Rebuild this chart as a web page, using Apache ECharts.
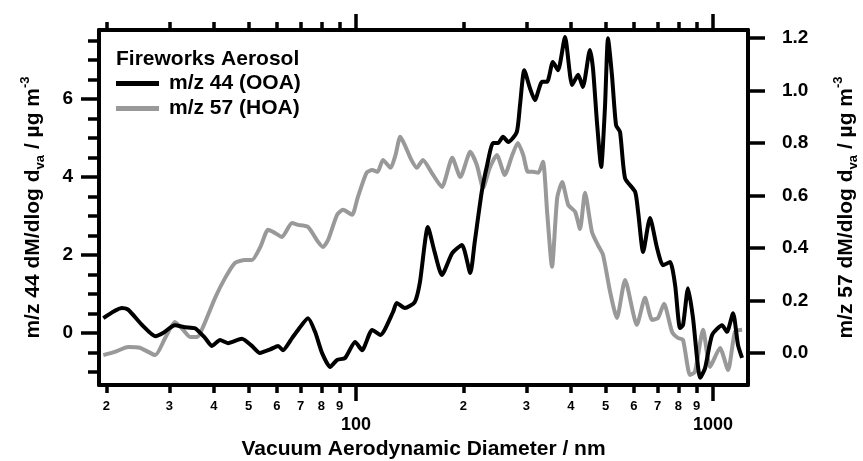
<!DOCTYPE html>
<html>
<head>
<meta charset="utf-8">
<script src="https://cdn.jsdelivr.net/npm/echarts@6/dist/echarts.min.js"></script>
<style>
    html, body { margin: 0; padding: 0; background: #fff; }
    #chart { width: 863px; height: 461px; }
</style>
</head>
<body>
<div id="chart"></div>
<script>
// m/z 44 (OOA) -> left axis
const diam44 = [19.6, 22.1, 23.0, 25.2, 27.4, 28.8, 31.1, 33.2, 35.4, 37.8, 39.5, 41.6, 43.8, 47.9, 51.1,
    53.8, 57.5, 60.5, 62.4, 66.2, 68.8, 73.4, 76.8, 80.3, 84.6, 88.5, 93.2, 99.4, 104, 111,
    117, 127, 130, 137, 146, 151, 159, 166, 174, 186, 198, 209, 215, 225, 233,
    242, 250, 258, 267, 282, 288, 296, 307, 317, 332, 343, 356, 368, 385, 403,
    419, 432, 452, 461, 473, 486, 498, 508, 521, 535, 549, 567, 605, 617, 637,
    666, 697, 724, 758, 783, 808, 824, 851, 879, 902, 920, 950, 994, 1060, 1094,
    1138, 1175, 1206];
const mz44 = [0.38, 0.64, 0.60, 0.20, -0.08, 0.00, 0.20, 0.15, 0.12, -0.13, -0.33, -0.18, -0.26, -0.15, -0.33,
    -0.51, -0.42, -0.33, -0.44, -0.13, 0.08, 0.38, 0.03, -0.51, -0.87, -0.69, -0.64, -0.23, -0.44, 0.08,
    -0.05, 0.54, 0.77, 0.64, 0.79, 1.30, 2.72, 2.08, 1.49, 2.05, 2.26, 1.54, 2.33, 3.62, 4.31,
    4.87, 4.87, 5.03, 4.90, 5.15, 5.85, 6.74, 6.28, 5.97, 6.44, 6.44, 6.95, 6.74, 7.59, 6.36,
    6.62, 6.31, 7.26, 6.79, 5.41, 4.26, 5.77, 7.56, 6.62, 5.33, 5.15, 3.97, 3.62, 3.10, 2.08,
    2.95, 2.18, 1.74, 1.82, 1.23, 0.13, 0.20, 1.15, 0.38, -0.64, -1.15, -0.90, -0.05, 0.20, 0.03,
    0.51, -0.31, -0.64];

// m/z 57 (HOA) -> right axis
const diam57 = [19.6, 21.1, 23.0, 24.8, 27.4, 29.2, 31.1, 32.8, 34.3, 35.9, 37.8, 40.3, 43.0, 45.8, 48.9,
    51.1, 54.0, 56.7, 59.3, 62.0, 66.2, 68.8, 73.4, 78.3, 80.8, 83.5, 88.5, 92.0, 97.5, 101,
    107, 111, 115, 119, 125, 129, 133, 137, 142, 148, 154, 163, 174, 186, 196,
    209, 218, 227, 237, 248, 261, 274, 284, 294, 303, 313, 324, 334, 343, 354,
    366, 378, 393, 411, 424, 438, 458, 476, 492, 515, 538, 567, 612, 645, 675,
    701, 729, 768, 798, 824, 862, 890, 938, 981, 1046, 1102, 1152, 1206];
const mz57 = [-0.008, 0.004, 0.023, 0.020, -0.008, 0.057, 0.118, 0.088, 0.061, 0.061, 0.118, 0.210, 0.286, 0.343, 0.354,
    0.354, 0.405, 0.469, 0.457, 0.442, 0.495, 0.488, 0.480, 0.423, 0.404, 0.430, 0.526, 0.545, 0.526, 0.590,
    0.686, 0.697, 0.690, 0.735, 0.705, 0.754, 0.823, 0.792, 0.743, 0.705, 0.735, 0.686, 0.632, 0.743, 0.670,
    0.766, 0.716, 0.629, 0.705, 0.754, 0.678, 0.754, 0.800, 0.754, 0.690, 0.690, 0.686, 0.728, 0.537, 0.328,
    0.590, 0.651, 0.564, 0.537, 0.472, 0.610, 0.461, 0.411, 0.373, 0.232, 0.133, 0.278, 0.107, 0.210, 0.126,
    0.133, 0.187, 0.080, 0.057, 0.050, -0.084, -0.072, 0.088, -0.053, 0.019, -0.065, 0.080, 0.088];

const xRange = [19.06, 1253];
const xMajorTicks = [100, 1000];
const xMinorTicks = [20, 30, 40, 50, 60, 70, 80, 90, 200, 300, 400, 500, 600, 700, 800, 900];
const leftRange = [-1.333, 7.77];
const leftTicks = [0, 2, 4, 6];
const leftMinorTicks = [-1, -0.5, 0.5, 1, 1.5, 2.5, 3, 3.5, 4.5, 5, 5.5, 6.5, 7, 7.5];
const rightRange = [-0.122, 1.23];
const rightTicks = [0, 0.2, 0.4, 0.6, 0.8, 1.0, 1.2];

const FONT = '"Liberation Sans", Arial, Helvetica, sans-serif';
const lg = (v) => Math.log10(v);
const axisLineStyle = { color: "#000", width: 4 };
const tickStyle = { color: "#000", width: 3.5 };
const nameRich = {
    n: { fontSize: 21, fontWeight: "bold", fontFamily: FONT, color: "#000", lineHeight: 28 },
    sub: { fontSize: 13, fontWeight: "bold", fontFamily: FONT, color: "#000", lineHeight: 13, verticalAlign: "bottom" },
    sup: { fontSize: 13, fontWeight: "bold", fontFamily: FONT, color: "#000", lineHeight: 13, verticalAlign: "top" },
};

function xAxisDef(pos, ticks, tickLen, label) {
    return {
        type: "value",
        position: pos,
        min: lg(xRange[0]),
        max: lg(xRange[1]),
        axisLine: { show: true, onZero: false, lineStyle: axisLineStyle },
        axisTick: { show: true, customValues: ticks.map(lg), length: tickLen, lineStyle: tickStyle },
        axisLabel: label ? label : { show: false },
        splitLine: { show: false },
    };
}

const chart = echarts.init(document.getElementById("chart"));
chart.setOption({
    animation: false,
    backgroundColor: "#fff",
    grid: { left: 99, right: 115, top: 30, bottom: 76, outerBoundsMode: "none", containLabel: false },
    title: {
        text: "Fireworks Aerosol",
        left: 116,
        top: 49,
        padding: 0,
        textStyle: { fontSize: 21, fontWeight: "bold", fontFamily: FONT, color: "#000" },
    },
    legend: {
        data: ["m/z 44 (OOA)", "m/z 57 (HOA)"],
        orient: "vertical",
        left: 116,
        top: 73,
        padding: 0,
        icon: "rect",
        itemWidth: 43,
        itemHeight: 5,
        itemGap: 4,
        textStyle: { fontSize: 21, fontWeight: "bold", fontFamily: FONT, color: "#000", lineHeight: 21, padding: [0, 0, 0, 5] },
    },
    xAxis: [
        Object.assign(xAxisDef("bottom", xMajorTicks, 16, {
            customValues: xMajorTicks.map(lg),
            formatter: (v) => String(Math.round(Math.pow(10, v))),
            margin: 31,
            fontSize: 18,
            fontWeight: "bold",
            fontFamily: FONT,
            color: "#000",
        }), {
            name: "Vacuum Aerodynamic Diameter / nm",
            nameLocation: "middle",
            nameGap: 54,
            nameTextStyle: { fontSize: 21, fontWeight: "bold", fontFamily: FONT, color: "#000" },
        }),
        Object.assign(xAxisDef("bottom", xMinorTicks, 8, {
            customValues: xMinorTicks.map(lg),
            formatter: (v) => String(Math.round(Math.pow(10, v - Math.floor(v + 1e-9)))),
            margin: 15,
            fontSize: 13,
            fontWeight: "bold",
            fontFamily: FONT,
            color: "#000",
        }), { axisLine: { show: false, onZero: false } }),
        xAxisDef("top", xMajorTicks, 16, null),
        Object.assign(xAxisDef("top", xMinorTicks, 8, null), { axisLine: { show: false, onZero: false } }),
    ],
    yAxis: [
        {
            type: "value",
            position: "left",
            min: leftRange[0],
            max: leftRange[1],
            axisLine: { show: true, onZero: false, lineStyle: axisLineStyle },
            axisTick: { show: true, customValues: leftTicks, length: 18, lineStyle: tickStyle },
            axisLabel: { customValues: leftTicks, margin: 26, fontSize: 19, fontWeight: "bold", fontFamily: FONT, color: "#000" },
            splitLine: { show: false },
            name: "{n|m/z 44 dM/dlog d}{sub|va}{n| / µg m}{sup|-3}",
            nameLocation: "middle",
            nameRotate: 90,
            nameGap: 52,
            nameTextStyle: { rich: nameRich },
        },
        {
            type: "value",
            position: "right",
            min: rightRange[0],
            max: rightRange[1],
            axisLine: { show: true, onZero: false, lineStyle: axisLineStyle },
            axisTick: { show: true, customValues: rightTicks, length: 17, lineStyle: tickStyle },
            axisLabel: {
                customValues: rightTicks,
                formatter: (v) => v.toFixed(1),
                margin: 34,
                fontSize: 19,
                fontWeight: "bold",
                fontFamily: FONT,
                color: "#000",
            },
            splitLine: { show: false },
            name: "{n|m/z 57 dM/dlog d}{sub|va}{n| / µg m}{sup|-3}",
            nameLocation: "middle",
            nameRotate: 90,
            nameGap: 84,
            nameTextStyle: { rich: nameRich },
        },
        {
            type: "value",
            position: "left",
            min: leftRange[0],
            max: leftRange[1],
            axisLine: { show: false, onZero: false },
            axisTick: { show: true, customValues: leftMinorTicks, length: 11, lineStyle: tickStyle },
            axisLabel: { show: false },
            splitLine: { show: false },
        },
    ],
    series: [
        {
            name: "m/z 57 (HOA)",
            type: "line",
            xAxisIndex: 0,
            yAxisIndex: 1,
            symbol: "none",
            smooth: 0.2,
            color: "#999999",
            lineStyle: { color: "#999999", width: 4 },
            data: diam57.map((d, i) => [lg(d), mz57[i]]),
        },
        {
            name: "m/z 44 (OOA)",
            type: "line",
            xAxisIndex: 0,
            yAxisIndex: 0,
            symbol: "none",
            smooth: 0.2,
            color: "#000000",
            lineStyle: { color: "#000000", width: 4 },
            data: diam44.map((d, i) => [lg(d), mz44[i]]),
        },
    ],
});
</script>
</body>
</html>
